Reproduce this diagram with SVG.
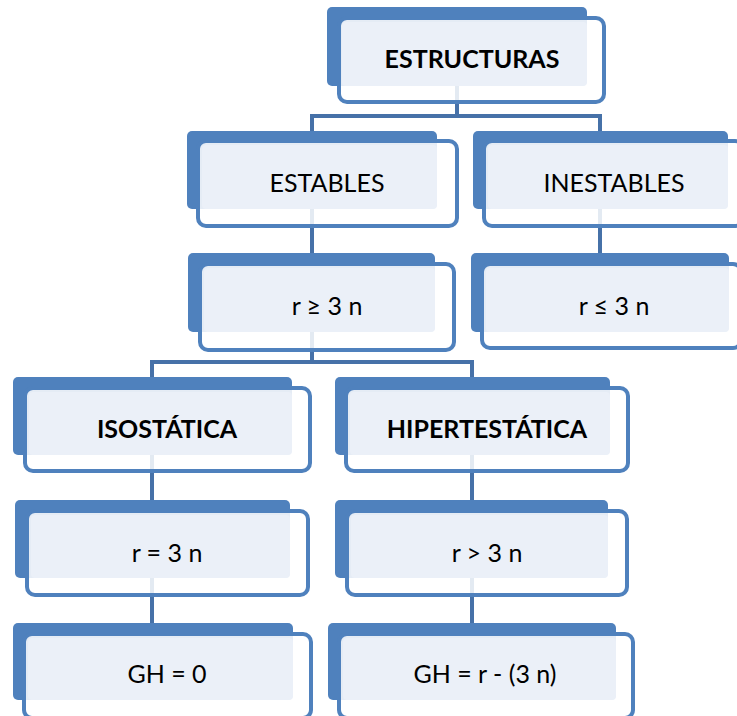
<svg xmlns="http://www.w3.org/2000/svg" width="737" height="716" viewBox="0 0 737 716">
<style>
.back{fill:#4F81BD}
.front{fill:#ffffff;fill-opacity:0.85;stroke:#4F81BD;stroke-width:4}
.light{fill:#EBF0F8}
.conn{fill:none;stroke:#4671A8;stroke-width:4}
text{font-family:Lato,"Liberation Sans",sans-serif;font-size:25px;fill:#000;text-anchor:middle}
.b{font-weight:bold}
</style>
<rect width="737" height="716" fill="#ffffff"/>
<g id="connectors">
<path class="conn" d="M457 86V116M312 131V116H600V131"/>
<path class="conn" d="M312 209V253M600 209V253"/>
<path class="conn" d="M312 332V362M152 377V362H472V377"/>
<path class="conn" d="M152 455V500M152 578V623M472 455V500M472 578V623"/>
</g>
<g id="n-estructuras">
<rect class="back" x="327" y="7" width="260" height="79" rx="5"/>
<rect class="front" x="339" y="18" width="265" height="84" rx="8"/>
<rect class="light" x="342" y="22" width="245" height="64" rx="4"/>
<text class="b" x="472" y="68">ESTRUCTURAS</text>
</g>
<g id="n-estables">
<rect class="back" x="187" y="131" width="250" height="78" rx="5"/>
<rect class="front" x="198" y="141" width="259" height="85" rx="8"/>
<rect class="light" x="202" y="145" width="235" height="64" rx="4"/>
<text x="327" y="192">ESTABLES</text>
</g>
<g id="n-inestables">
<rect class="back" x="473" y="131" width="255" height="78" rx="5"/>
<rect class="front" x="484" y="141" width="259" height="85" rx="8"/>
<rect class="light" x="488" y="145" width="240" height="64" rx="4"/>
<text x="614" y="192">INESTABLES</text>
</g>
<g id="n-rge">
<rect class="back" x="188" y="253" width="247" height="79" rx="5"/>
<rect class="front" x="200" y="264" width="254" height="86" rx="8"/>
<rect class="light" x="204" y="268" width="231" height="64" rx="4"/>
<text x="327" y="315">r ≥ 3 n</text>
</g>
<g id="n-rle">
<rect class="back" x="471" y="253" width="258" height="79" rx="5"/>
<rect class="front" x="482" y="264" width="259" height="84" rx="8"/>
<rect class="light" x="486" y="268" width="243" height="64" rx="4"/>
<text x="614" y="315">r ≤ 3 n</text>
</g>
<g id="n-isostatica">
<rect class="back" x="13" y="377" width="279" height="78" rx="5"/>
<rect class="front" x="25" y="388" width="285" height="83" rx="8"/>
<rect class="light" x="29" y="392" width="263" height="63" rx="4"/>
<text class="b" x="167" y="438">ISOSTÁTICA</text>
</g>
<g id="n-hiperestatica">
<rect class="back" x="335" y="377" width="275" height="78" rx="5"/>
<rect class="front" x="346" y="388" width="282" height="83" rx="8"/>
<rect class="light" x="350" y="392" width="260" height="63" rx="4"/>
<text class="b" x="487" y="438">HIPERTESTÁTICA</text>
</g>
<g id="n-req">
<rect class="back" x="15" y="500" width="275" height="78" rx="5"/>
<rect class="front" x="27" y="511" width="281" height="84" rx="8"/>
<rect class="light" x="31" y="515" width="259" height="63" rx="4"/>
<text x="167" y="562">r = 3 n</text>
</g>
<g id="n-rgt">
<rect class="back" x="335" y="500" width="273" height="78" rx="5"/>
<rect class="front" x="347" y="511" width="280" height="84" rx="8"/>
<rect class="light" x="351" y="515" width="257" height="63" rx="4"/>
<text x="487" y="562">r &gt; 3 n</text>
</g>
<g id="n-gh0">
<rect class="back" x="13" y="623" width="280" height="77" rx="5"/>
<rect class="front" x="24" y="634" width="287" height="84" rx="8"/>
<rect class="light" x="28" y="638" width="265" height="62" rx="4"/>
<text x="167" y="683">GH = 0</text>
</g>
<g id="n-ghr">
<rect class="back" x="328" y="623" width="288" height="77" rx="5"/>
<rect class="front" x="339" y="634" width="294" height="84" rx="8"/>
<rect class="light" x="343" y="638" width="273" height="62" rx="4"/>
<text x="485" y="683">GH = r - (3 n)</text>
</g>
</svg>
